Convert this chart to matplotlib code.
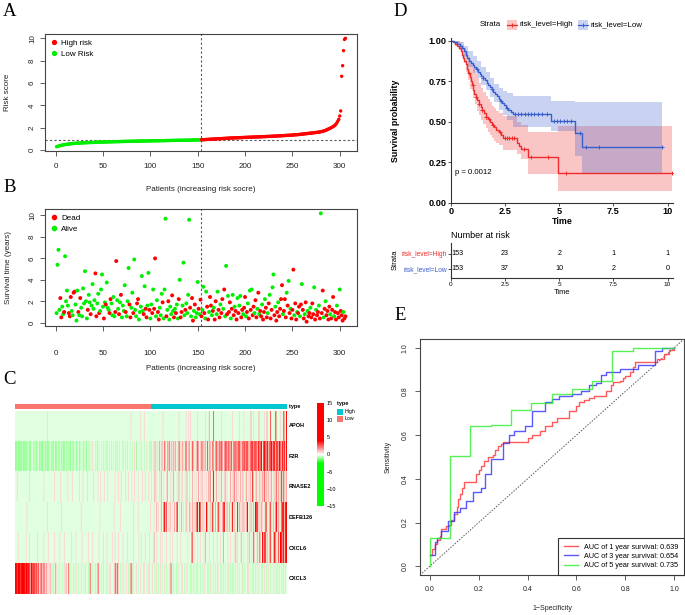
import numpy as np
import matplotlib
matplotlib.use("Agg")
import matplotlib.pyplot as plt
from matplotlib.colors import LinearSegmentedColormap, ListedColormap, Normalize
from matplotlib.cm import ScalarMappable
from matplotlib.lines import Line2D
from matplotlib.patches import Rectangle

plt.rcParams['font.family'] = ['Liberation Sans', 'DejaVu Sans']

# ---------------------------------------------------------------
# A: risk score per patient (sorted), 153 low + 153 high
# ---------------------------------------------------------------
risk_score = [
    0.30, 0.32, 0.35, 0.37, 0.40, 0.42, 0.44, 0.46, 0.47, 0.49, 0.50, 0.52, 0.53, 0.54, 0.55, 0.56, 0.57, 0.58,
    0.59, 0.59, 0.60, 0.61, 0.61, 0.62, 0.62, 0.63, 0.63, 0.64, 0.64, 0.65, 0.65, 0.65, 0.66, 0.66, 0.67, 0.67,
    0.67, 0.68, 0.68, 0.68, 0.69, 0.69, 0.69, 0.70, 0.70, 0.70, 0.71, 0.71, 0.71, 0.71, 0.72, 0.72, 0.72, 0.72,
    0.73, 0.73, 0.73, 0.73, 0.74, 0.74, 0.74, 0.74, 0.75, 0.75, 0.75, 0.75, 0.75, 0.76, 0.76, 0.76, 0.76, 0.77,
    0.77, 0.77, 0.77, 0.78, 0.78, 0.78, 0.78, 0.78, 0.79, 0.79, 0.79, 0.79, 0.79, 0.80, 0.80, 0.80, 0.80, 0.80,
    0.80, 0.81, 0.81, 0.81, 0.81, 0.81, 0.81, 0.82, 0.82, 0.82, 0.82, 0.82, 0.82, 0.83, 0.83, 0.83, 0.83, 0.83,
    0.83, 0.84, 0.84, 0.84, 0.84, 0.84, 0.84, 0.85, 0.85, 0.85, 0.85, 0.85, 0.85, 0.86, 0.86, 0.86, 0.86, 0.86,
    0.86, 0.87, 0.87, 0.87, 0.87, 0.87, 0.87, 0.88, 0.88, 0.88, 0.88, 0.88, 0.88, 0.89, 0.89, 0.89, 0.89, 0.89,
    0.90, 0.90, 0.90, 0.90, 0.90, 0.91, 0.91, 0.91, 0.91, 0.92, 0.92, 0.93, 0.93, 0.94, 0.94, 0.95, 0.95, 0.96,
    0.96, 0.97, 0.97, 0.98, 0.98, 0.99, 0.99, 1.00, 1.00, 1.01, 1.01, 1.02, 1.02, 1.03, 1.03, 1.04, 1.04, 1.05,
    1.05, 1.06, 1.06, 1.07, 1.07, 1.08, 1.08, 1.08, 1.09, 1.09, 1.09, 1.10, 1.10, 1.10, 1.11, 1.11, 1.11, 1.12,
    1.13, 1.13, 1.13, 1.14, 1.14, 1.14, 1.15, 1.15, 1.15, 1.16, 1.16, 1.16, 1.17, 1.17, 1.17, 1.18, 1.18, 1.18,
    1.19, 1.19, 1.20, 1.20, 1.20, 1.21, 1.21, 1.22, 1.22, 1.22, 1.23, 1.23, 1.24, 1.24, 1.24, 1.25, 1.25, 1.26,
    1.26, 1.27, 1.27, 1.28, 1.28, 1.29, 1.29, 1.30, 1.30, 1.31, 1.31, 1.32, 1.32, 1.33, 1.33, 1.34, 1.35, 1.35,
    1.36, 1.37, 1.37, 1.38, 1.39, 1.40, 1.41, 1.42, 1.43, 1.44, 1.45, 1.46, 1.47, 1.48, 1.49, 1.50, 1.51, 1.52,
    1.53, 1.54, 1.55, 1.56, 1.57, 1.58, 1.59, 1.60, 1.62, 1.64, 1.66, 1.68, 1.70, 1.73, 1.76, 1.80, 1.84, 1.88,
    1.92, 1.96, 2.00, 2.05, 2.10, 2.16, 2.22, 2.32, 2.45, 2.60, 2.75, 3.05, 3.50, 6.60, 7.55, 8.90, 9.90, 10.00,
]
n_low = 153
n_high = 153
risk_cutoff = 0.915

# ---------------------------------------------------------------
# B: survival time (years) and status (1 = dead, 0 = alive)
# ---------------------------------------------------------------
surv_time = [
    0.9, 5.4, 6.8, 1.2, 2.3, 0.5, 1.5, 0.8, 1.0, 6.2, 2.0, 3.0, 1.6, 0.9, 0.6, 2.4, 1.1, 0.7,
    2.8, 2.9, 1.7, 0.2, 3.0, 1.0, 0.7, 2.3, 1.4, 0.6, 3.2, 1.8, 4.8, 2.0, 0.4, 1.2, 2.6, 1.9,
    0.8, 1.6, 3.6, 1.3, 2.1, 4.6, 0.6, 1.8, 2.7, 0.9, 1.1, 3.1, 4.5, 1.5, 0.4, 1.9, 1.7, 3.75,
    1.4, 1.2, 0.9, 2.2, 1.8, 0.7, 2.4, 0.6, 1.0, 5.75, 2.1, 1.3, 0.8, 1.9, 2.6, 0.5, 1.6, 1.1,
    3.5, 1.0, 0.6, 2.0, 5.1, 1.7, 0.5, 1.4, 2.8, 0.9, 5.9, 1.2, 0.6, 1.8, 2.2, 0.3, 1.0, 1.5,
    4.35, 1.1, 0.8, 3.4, 1.3, 0.5, 1.6, 4.65, 1.2, 0.4, 1.7, 0.9, 3.1, 1.3, 6.0, 0.6, 2.1, 1.0,
    0.3, 1.4, 0.7, 2.7, 1.9, 0.4, 3.1, 9.7, 0.6, 1.2, 2.0, 0.3, 1.5, 0.8, 2.55, 1.1, 0.5, 1.3,
    0.9, 1.7, 0.4, 2.2, 4.0, 0.5, 1.0, 1.6, 5.6, 0.7, 1.2, 1.8, 0.9, 2.6, 9.6, 1.4, 0.6, 2.3,
    0.2, 1.1, 1.7, 0.5, 0.9, 3.8, 1.3, 0.8, 2.15, 0.6, 1.2, 3.35, 0.9, 0.4, 2.9, 1.5, 0.3, 1.0,
    2.4, 1.6, 0.7, 1.1, 1.4, 0.3, 2.0, 0.8, 2.9, 1.2, 0.5, 1.7, 0.9, 2.2, 1.3, 3.1, 0.6, 5.3,
    0.8, 2.5, 1.0, 1.9, 0.4, 1.3, 2.6, 0.7, 1.5, 1.1, 0.3, 2.3, 0.9, 1.6, 2.5, 0.5, 1.2, 0.8,
    1.4, 2.4, 0.6, 1.0, 1.8, 0.4, 3.0, 1.2, 3.1, 0.7, 1.5, 0.9, 2.1, 0.5, 1.3, 2.8, 0.8, 1.1,
    0.6, 1.7, 0.3, 1.0, 2.2, 1.4, 0.5, 0.9, 1.8, 2.6, 0.4, 1.2, 3.3, 4.5, 0.7, 1.5, 0.2, 1.0,
    1.9, 0.6, 1.3, 2.2, 3.5, 0.8, 1.1, 2.2, 0.5, 2.8, 1.6, 3.9, 0.9, 1.3, 0.4, 1.2, 4.95, 0.7,
    1.8, 0.3, 1.0, 0.9, 1.5, 0.6, 1.7, 3.6, 1.2, 0.4, 0.8, 1.9, 0.1, 1.1, 0.6, 0.9, 1.4, 0.5,
    1.8, 0.8, 3.3, 0.3, 1.2, 0.7, 1.0, 1.6, 0.4, 10.2, 0.9, 3.0, 0.5, 1.3, 2.0, 0.7, 1.1, 0.3,
    1.5, 0.8, 0.4, 1.2, 2.4, 0.6, 1.0, 0.3, 1.6, 0.9, 0.5, 3.1, 1.1, 0.7, 0.2, 1.0, 0.4, 0.6,
]
surv_status = "".join([
    "000011001000011100", "110001010000000100", "100001100100001010",
    "001100001100101000", "010001100100011000", "001011001001011001",
    "100010001010001010", "100101100010000101", "101000101100100110",
    "110101100110110100", "101101010110100110", "110101010110110101",
    "101101101011001011", "011110111010101110", "110110101101101101",
    "110101101011010111", "101110110110111011",
])

# ---------------------------------------------------------------
# C: expression heatmap, one code per patient (same order as A/B)
# ---------------------------------------------------------------
genes = ['APOH', 'F2R', 'RNASE2', 'DEFB126', 'CXCL6', 'CXCL3']
expr_code_values = {'.': -0.3, 'g': -0.6, 'G': -1.0, 'p': 0.6, 'q': 1.5, 'R': 2.8, 'r': 8.0}
expr_rows = [
    ".......... .......... .......... ......p... .......... .......... .......... .......... "
    ".......... .......... .......... .......... .......... p......... .p...p.... .......... "
    "......p... .......... ....p..... ..p..p.p.. .....p.... ....p...q. ...R...... ..p....... "
    "....p..... ..p....p.. .....q..p. ....q..... p..q...R.. ...r....p. ..r..r",
    "GGgGGgGGgG GgGG.gGG.. gG.gGg.GgG GG.gGgGGg. gGgG.GG.gG g.GgGG.gG. GgG.gGg.gG g.Gg..gG.g "
    "G.gp.g.p.. g.G.g..g.p .g.G..g.p. g..G.p.g.. .G..g.p..g ..g.p.G... g.p..g..p. .pgp.p.qp. "
    "p.q.pq.pRp .qpR.pq.qp q.p.Rq.pqp .qRp.qq.pR q.p.qRq.pq R.qpq.R.qq p.Rq.qRqpq RqRq.qRRqq "
    "RqqR.qRqRq qRRq.RqRRq RRq.RqrRqR RR.rRqRr.R rRqRr.RRrq RrR.rRqrR. rRqr.r",
    "..p....... ......p... .......... ..p....... ....p..... .p.......p ....p..... ..p...p... "
    ".p......p. ...p..p... p...p..... ..p...p..p ....p..p.. .p..p...p. ...p..p... p..p..pq.p "
    "..p.q..p.. pq..p.p.q. ..p.q..pp. .p.q..p..q ..p.p.q.p. q..p.p.q.R ..pr..q.p. p.q..pq.p. "
    "..q.p.Rp.q .p.q.pq..p q.p.qp.rp. pq.p.q.pqp R.qp.q.pq. p.qpR.qp.r .qR.pq",
    ".......... ...p...... .......... ......p... .......... ..p....... .......... ....p..... "
    ".......... .....p.... .......... .p......p. .......... ...p....p. .......... ..p...p..q "
    ".p..q..Rrp R.p.q..p.q .qr..p.q.p ..q.p.qp.q p.q.Rr.rRp .q.p.rq.p. q.rp.q..rq .p.qRr..qp "
    ".q.pr.q.p. r.qp.q.qp. qr.p.qp.q. rRr.q.pqp. .qr.p.qRp. q.pRr.qp.q rRr.rr",
    "...p...... ..p...p... .....p.... ..p....p.. ....p..... p....p.... ...p....p. .....p.... "
    "..p....p.. ....p....p ...p.....p ..p...p... .p....p... ...p.....p ..p...p... .p....q..p "
    "...p.p.... p...p..p.. ..p...p... ....p...qR .p...p..p. ..p.q...p. ...p...p.. .p..q....p "
    "..p...p.q. p...q..p.. .p.q..p.Rp ..q.pR..rq Rr.qp.qRp. .rRq.pR.rr qRr.rr",
    "rrRrrrRrrr rRrrRrRqrR RrqRRqRpqR qpRqpqpp.q p.gp.qp.g. p..g.p.q.. R.g..p.g.p .g..p..g.p "
    "..g.Rp.g.. p.gRp..g.p ..g.p.gp.. .pqR.Rp.g. p.g..p.gp. Rq.g..p.g. .p..gp..g. pg..p.g.gp "
    ".g.p.g..p. g..p.Rg.p. .gg.p..gp. g.p.g..gg. p.g.gp..g. .g.p..gg.p g..p.g.gp. .gg.p.g..g "
    "p.g.gg..p. g.g..pg.g. .gp.g..gp. g.g.p..gg. p.gg.p.g.. g.p.gg.p.g .gp.g.",
]

# ---------------------------------------------------------------
# D: Kaplan-Meier curves (step points), 95% bands, censor times
# ---------------------------------------------------------------
km_high_t = [0, 0.1, 0.2, 0.3, 0.37, 0.44, 0.5, 0.56, 0.62, 0.68, 0.74, 0.8, 0.86, 0.92, 0.97, 1.02,
             1.08, 1.15, 1.22, 1.3, 1.38, 1.45, 1.52, 1.6, 1.7, 1.8, 1.9, 2.0, 2.1, 2.2, 2.3, 2.38,
             3.05, 3.15, 3.25, 3.55, 4.95, 10.2]
km_high_s = [1.0, 0.993, 0.98, 0.967, 0.954, 0.935, 0.915, 0.895, 0.875, 0.855, 0.829, 0.803, 0.777,
             0.751, 0.725, 0.699, 0.673, 0.653, 0.633, 0.613, 0.593, 0.573, 0.553, 0.533, 0.516, 0.499,
             0.483, 0.468, 0.452, 0.436, 0.418, 0.398, 0.372, 0.352, 0.335, 0.285, 0.187, 0.187]
km_low_t = [0, 0.15, 0.3, 0.42, 0.52, 0.6, 0.68, 0.76, 0.84, 0.92, 1.0, 1.08, 1.16, 1.24, 1.32, 1.4,
            1.48, 1.56, 1.64, 1.72, 1.8, 1.88, 1.96, 2.04, 2.12, 2.2, 2.28, 2.36, 2.45, 2.55, 2.65,
            2.75, 2.88, 4.62, 5.72, 6.03, 9.72]
km_low_s = [1.0, 0.993, 0.98, 0.967, 0.954, 0.935, 0.915, 0.895, 0.875, 0.862, 0.849, 0.836, 0.823,
            0.81, 0.797, 0.784, 0.77, 0.756, 0.742, 0.728, 0.714, 0.70, 0.686, 0.672, 0.658, 0.644,
            0.63, 0.616, 0.602, 0.588, 0.574, 0.56, 0.546, 0.505, 0.43, 0.345, 0.345]
band_high_t = [0, 0.2, 0.35, 0.5, 0.6, 0.7, 0.8, 0.9, 1.0, 1.1, 1.2, 1.3, 1.4, 1.5, 1.6, 1.7, 1.8,
               1.9, 2.0, 2.1, 2.2, 2.38, 3.05, 3.25, 3.55, 4.95, 10.2]
band_high_up = [1.0, 1.0, 0.995, 0.975, 0.955, 0.93, 0.90, 0.865, 0.83, 0.80, 0.77, 0.74, 0.71, 0.685,
                0.66, 0.64, 0.62, 0.60, 0.585, 0.57, 0.555, 0.535, 0.50, 0.48, 0.44, 0.475, 0.475]
band_high_lo = [1.0, 0.97, 0.945, 0.90, 0.86, 0.81, 0.76, 0.70, 0.65, 0.61, 0.57, 0.54, 0.51, 0.485,
                0.46, 0.44, 0.42, 0.40, 0.385, 0.37, 0.355, 0.325, 0.30, 0.27, 0.178, 0.072, 0.072]
band_low_t = [0, 0.2, 0.4, 0.6, 0.8, 1.0, 1.2, 1.4, 1.6, 1.8, 2.0, 2.2, 2.4, 2.6, 2.88, 4.62, 5.72,
              6.03, 9.72]
band_low_up = [1.0, 1.0, 0.995, 0.97, 0.935, 0.905, 0.875, 0.84, 0.81, 0.77, 0.735, 0.71, 0.69, 0.675,
               0.66, 0.63, 0.625, 0.62, 0.62]
band_low_lo = [1.0, 0.975, 0.945, 0.90, 0.84, 0.80, 0.77, 0.725, 0.695, 0.655, 0.62, 0.575, 0.54, 0.51,
               0.47, 0.445, 0.29, 0.187, 0.187]
censor_high = [0.85, 1.0, 1.15, 1.3, 1.45, 1.6, 1.75, 1.95, 2.25, 2.5, 2.6, 2.7, 2.8, 2.9, 3.35, 3.7,
               4.5, 5.3, 10.2]
censor_low = [1.2, 1.5, 1.9, 2.3, 2.6, 2.95, 3.1, 3.25, 3.4, 3.55, 3.7, 3.85, 4.0, 4.2, 4.45, 4.75,
              4.9, 5.05, 5.2, 5.35, 5.55, 5.95, 6.23, 6.85, 9.72]
risk_times = [0, 2.5, 5, 7.5, 10]
at_risk_high = [153, 23, 2, 1, 1]
at_risk_low = [153, 37, 10, 2, 0]
p_value = 'p = 0.0012'

# ---------------------------------------------------------------
# E: time-dependent ROC curves
# ---------------------------------------------------------------
roc1_fpr = [0, 0.01, 0.02, 0.03, 0.04, 0.045, 0.06, 0.065, 0.08, 0.085, 0.1, 0.11, 0.115, 0.125, 0.13,
            0.14, 0.18, 0.19, 0.2, 0.21, 0.22, 0.235, 0.24, 0.26, 0.265, 0.28, 0.29, 0.3, 0.37, 0.4,
            0.42, 0.45, 0.47, 0.5, 0.52, 0.56, 0.57, 0.6, 0.61, 0.63, 0.65, 0.67, 0.7, 0.72, 0.74,
            0.75, 0.78, 0.79, 0.8, 0.82, 0.83, 0.84, 0.92, 0.93, 0.96, 0.98, 1.0]
roc1_tpr = [0.05, 0.08, 0.1, 0.12, 0.14, 0.17, 0.17, 0.185, 0.19, 0.21, 0.24, 0.27, 0.31, 0.33, 0.36,
            0.385, 0.385, 0.42, 0.44, 0.46, 0.48, 0.48, 0.5, 0.51, 0.53, 0.55, 0.56, 0.57, 0.57, 0.585,
            0.6, 0.62, 0.64, 0.66, 0.68, 0.68, 0.71, 0.735, 0.75, 0.76, 0.77, 0.78, 0.78, 0.8, 0.83,
            0.845, 0.85, 0.86, 0.87, 0.89, 0.91, 0.935, 0.935, 0.95, 0.97, 0.99, 1.0]
roc3_fpr = [0, 0.023, 0.03, 0.047, 0.075, 0.1, 0.123, 0.15, 0.177, 0.21, 0.225, 0.25, 0.3, 0.325,
            0.345, 0.39, 0.42, 0.47, 0.5, 0.53, 0.58, 0.62, 0.65, 0.68, 0.70, 0.72, 0.78, 0.85,
            0.92, 0.95, 1.0]
roc3_tpr = [0.05, 0.11, 0.13, 0.16, 0.205, 0.25, 0.266, 0.3, 0.338, 0.356, 0.42, 0.49, 0.566, 0.6,
            0.62, 0.64, 0.71, 0.75, 0.765, 0.78, 0.79, 0.8, 0.83, 0.84, 0.875, 0.89, 0.905, 0.92,
            0.985, 1.0, 1.0]
roc5_fpr = [0, 0, 0.082, 0.166, 0.25, 0.334, 0.416, 0.5, 0.58, 0.662, 0.745, 0.833, 1.0]
roc5_tpr = [0, 0.128, 0.505, 0.64, 0.648, 0.717, 0.747, 0.787, 0.813, 0.85, 0.985, 1.0, 1.0]
roc_labels = ['AUC of 1 year survival: 0.639', 'AUC of 3 year survival: 0.654',
              'AUC of 5 year survival: 0.735']

# ---------------------------------------------------------------
W, H = 685, 615
fig = plt.figure(figsize=(W / 100, H / 100), dpi=100)

RED, GREEN = '#FF0000', '#00EE00'
KM_RED, KM_BLUE = '#EE2C2C', '#3A5FCD'
EDGE = '#444444'


def ax_px(left, top, right, bottom):
    return fig.add_axes([left / W, 1 - bottom / H, (right - left) / W, (bottom - top) / H])


def text_px(x, y, s, **kw):
    kw.setdefault('va', 'center')
    return fig.text(x / W, 1 - y / H, s, **kw)


def r_lim(values):
    lo, hi = min(values), max(values)
    d = (hi - lo) * 0.04
    return lo - d, hi + d


def r_axes(ax, size, xpad, ypad):
    for sp in ax.spines.values():
        sp.set_color(EDGE)
        sp.set_linewidth(0.8)
    ax.tick_params(direction='out', length=3.3, width=0.6, color=EDGE,
                   labelsize=size, labelcolor='#222222')
    ax.tick_params(axis='x', pad=xpad)
    ax.tick_params(axis='y', pad=ypad)
    for lab in ax.get_yticklabels():
        lab.set_rotation(90)
        lab.set_va('center')


# panel letters
for letter, (x, y) in {'A': (10, 11), 'B': (10, 188), 'C': (9, 380), 'D': (400, 11), 'E': (400, 316)}.items():
    text_px(x, y, letter, ha='center', family='Liberation Serif', fontsize=13.5)

# ---------------- A ----------------
axA = ax_px(45, 34, 357, 151)
pid = np.arange(1, len(risk_score) + 1)
risk_group = ['Low'] * n_low + ['High'] * n_high
axA.scatter(pid, risk_score, s=6, lw=0,
            c=[RED if g == 'High' else GREEN for g in risk_group], zorder=3)
axA.axvline(n_low + 0.5, color='#555555', ls=(0, (2, 2)), lw=0.8)
axA.axhline(risk_cutoff, color='#555555', ls=(0, (2, 2)), lw=0.8)
axA.set_xlim(r_lim(pid))
axA.set_ylim(r_lim(risk_score))
axA.set_xticks(range(0, 301, 50))
axA.set_yticks(range(0, 11, 2))
r_axes(axA, 5.8, 5.0, 3.2)
axA.legend(handles=[Line2D([], [], ls='', marker='o', ms=2.8, color=RED, label='High risk'),
                    Line2D([], [], ls='', marker='o', ms=2.8, color=GREEN, label='Low Risk')],
           loc='upper left', frameon=False, fontsize=5.8, handlelength=0.8,
           handletextpad=0.5, labelspacing=0.35, borderaxespad=0.3, borderpad=0.4)
text_px(201, 189, 'Patients (increasing risk socre)', ha='center', fontsize=5.8, color='#222222')
text_px(8, 92, 'Risk score', ha='center', rotation=90, fontsize=5.8, color='#222222')

# ---------------- B ----------------
axB = ax_px(45, 209, 357, 326)
n = min(len(surv_time), len(surv_status))
pidB = np.arange(1, n + 1)
axB.scatter(pidB, surv_time[:n], s=8, lw=0,
            c=[RED if st == '1' else GREEN for st in surv_status[:n]], zorder=3)
axB.axvline(n_low + 0.5, color='#555555', ls=(0, (2, 2)), lw=0.8)
axB.set_xlim(r_lim(pidB))
axB.set_ylim(r_lim(surv_time))
axB.set_xticks(range(0, 301, 50))
axB.set_yticks(range(0, 11, 2))
r_axes(axB, 5.8, 14.0, 3.2)
axB.legend(handles=[Line2D([], [], ls='', marker='o', ms=3.0, color=RED, label='Dead'),
                    Line2D([], [], ls='', marker='o', ms=3.0, color=GREEN, label='Alive')],
           loc='upper left', frameon=False, fontsize=5.8, handlelength=0.8,
           handletextpad=0.5, labelspacing=0.35, borderaxespad=0.3, borderpad=0.4)
text_px(201, 369, 'Patients (increasing risk socre)', ha='center', fontsize=5.8, color='#222222')
text_px(9, 268, 'Survival time (years)', ha='center', rotation=90, fontsize=5.8, color='#222222')

# ---------------- C ----------------
heat_cmap = LinearSegmentedColormap.from_list(
    'gwr', [(0.0, '#00FF00'), ((15 - 2.5) / 30, '#00FF00'), (0.5, '#FFFFFF'),
            ((15 + 4) / 30, '#FF0000'), (1.0, '#FF0000')])
heat_norm = Normalize(-15, 15)
n_pat = n_low + n_high

axT = ax_px(15, 404, 287, 409)
type_codes = [0 if g == 'Low' else 1 for g in risk_group]
axT.imshow([type_codes], extent=(0, n_pat, 0, 1), aspect='auto', interpolation='nearest',
           cmap=ListedColormap(['#F8766D', '#00C8D0']))
axT.set_xlim(0, n_pat)
axT.set_axis_off()
text_px(289, 406.5, 'type', fontsize=4, fontweight='bold')

row_top, row_bot = 410.5, 594
axC = ax_px(15, row_top, 287, row_bot)
row_h = (row_bot - row_top) / len(genes)
for i, (gene, row) in enumerate(zip(genes, expr_rows)):
    vals = np.array([expr_code_values[ch] for ch in "".join(row.split())])
    y0 = len(genes) - 1 - i
    axC.imshow(vals[None, :], extent=(0, n_pat, y0, y0 + 1), aspect='auto',
               cmap=heat_cmap, norm=heat_norm)
    text_px(289, row_top + row_h * (i + 0.5), gene, fontsize=4, fontweight='bold')
axC.set_xlim(0, n_pat)
axC.set_ylim(0, len(genes))
axC.set_axis_off()

cax = ax_px(317, 403, 324, 506)
cb = fig.colorbar(ScalarMappable(norm=heat_norm, cmap=heat_cmap), cax=cax)
cb.outline.set_visible(False)
cb.set_ticks([15, 10, 5, 0, -5, -10, -15])
cb.set_ticklabels(['15', '10', '5', '0', '\u22125', '\u221210', '\u221215'])
cb.ax.tick_params(length=0, labelsize=4, pad=2.2)
text_px(337, 404, 'type', fontsize=4, fontweight='bold')
for k, (lab, col) in enumerate([('High', '#00C8D0'), ('Low', '#F8766D')]):
    y = 409 + k * 7
    fig.add_artist(Rectangle((337 / W, 1 - (y + 5.5) / H), 6 / W, 5.5 / H,
                             transform=fig.transFigure, color=col, lw=0))
    text_px(344.5, y + 2.8, lab, fontsize=3.8)

# ---------------- D ----------------
axD = ax_px(451, 38, 673, 203)
for tt, up, lo, col in [(band_high_t, band_high_up, band_high_lo, KM_RED),
                        (band_low_t, band_low_up, band_low_lo, KM_BLUE)]:
    axD.fill_between(tt, lo, up, step='post', color=col, alpha=0.27, lw=0)
for tt, ss, cens, col in [(km_high_t, km_high_s, censor_high, KM_RED),
                          (km_low_t, km_low_s, censor_low, KM_BLUE)]:
    axD.step(tt, ss, where='post', color=col, lw=1.0)
    idx = np.searchsorted(tt, cens, side='right') - 1
    axD.plot(cens, np.array(ss)[idx], ls='', marker='+', ms=3.2, mew=0.7, color=col)
axD.set_xlim(0, 10.25)
axD.set_ylim(0, 1.017)
axD.set_xticks(risk_times)
axD.set_xticklabels(['0', '2.5', '5', '7.5', '10'])
axD.set_yticks([0, 0.25, 0.5, 0.75, 1.0])
axD.set_yticklabels(['0.00', '0.25', '0.50', '0.75', '1.00'])
for side in ['top', 'right']:
    axD.spines[side].set_visible(False)
for side in ['left', 'bottom']:
    axD.spines[side].set_color('#333333')
    axD.spines[side].set_linewidth(0.8)
axD.tick_params(direction='out', length=2.2, width=0.6, color='#333333', labelsize=6.6, pad=0.8)
for lab in axD.get_xticklabels() + axD.get_yticklabels():
    lab.set_fontweight('bold')
axD.text(0.2, 0.185, p_value, fontsize=5.6, va='center')
text_px(562, 221, 'Time', ha='center', fontsize=6.4, fontweight='bold')
text_px(395, 121, 'Survival probability', ha='center', rotation=90, fontsize=6.4, fontweight='bold')

# legend above panel D
text_px(480, 25, 'Strata', fontsize=5.7)
for (x0, lab, col) in [(506.5, 'risk_level=High', KM_RED), (578, 'risk_level=Low', KM_BLUE)]:
    fig.add_artist(Rectangle((x0 / W, 1 - 29.5 / H), 10 / W, 9 / H, transform=fig.transFigure,
                             color=col, alpha=0.27, lw=0))
    fig.add_artist(Line2D([x0 / W, (x0 + 10) / W], [1 - 25 / H] * 2, color=col, lw=0.9,
                          transform=fig.transFigure))
    fig.add_artist(Line2D([(x0 + 5) / W], [1 - 25 / H], color=col, marker='+', ms=3.2, mew=0.7,
                          transform=fig.transFigure))
    text_px(x0 + 12.5, 25, lab, fontsize=5.7)

# risk table
axR = ax_px(451, 243, 673, 278)
for k, t in enumerate(risk_times):
    ha = 'left' if k == 0 else 'center'
    axR.text(t, 2, str(at_risk_high[k]), ha=ha, va='center', fontsize=5.2)
    axR.text(t, 1, str(at_risk_low[k]), ha=ha, va='center', fontsize=5.2)
axR.set_xlim(0, 10.25)
axR.set_ylim(0.4, 2.73)
axR.set_xticks(risk_times)
axR.set_xticklabels(['0', '2.5', '5', '7.5', '10'])
axR.set_yticks([2, 1])
axR.set_yticklabels(['risk_level=High', 'risk_level=Low'])
for lab, col in zip(axR.get_yticklabels(), [KM_RED, KM_BLUE]):
    lab.set_color(col)
for side in ['top', 'right']:
    axR.spines[side].set_visible(False)
for side in ['left', 'bottom']:
    axR.spines[side].set_color('#333333')
    axR.spines[side].set_linewidth(0.8)
axR.tick_params(direction='out', length=2.2, width=0.6, color='#333333', labelsize=4.6, pad=0.8)
axR.tick_params(axis='y', labelsize=4.8)
text_px(451, 236, 'Number at risk', fontsize=6.5)
text_px(562, 293, 'Time', ha='center', fontsize=5.4)
text_px(395, 260, 'Strata', ha='center', rotation=90, fontsize=5.5)

# ---------------- E ----------------
axE = ax_px(420, 339, 684, 575)
axE.axline((0, 0), (1, 1), color='#555555', ls=(0, (1.5, 1.5)), lw=0.7)
roc_handles = []
for fpr, tpr, col, lab in [(roc1_fpr, roc1_tpr, '#FF3030', roc_labels[0]),
                           (roc3_fpr, roc3_tpr, '#3030FF', roc_labels[1]),
                           (roc5_fpr, roc5_tpr, '#30EE30', roc_labels[2])]:
    h, = axE.step(fpr, tpr, where='post', color=col, lw=1.0, alpha=0.8, label=lab)
    roc_handles.append(h)
axE.set_xlim(-0.04, 1.04)
axE.set_ylim(-0.04, 1.04)
ticks = [0, 0.2, 0.4, 0.6, 0.8, 1.0]
axE.set_xticks(ticks)
axE.set_yticks(ticks)
axE.set_xticklabels([f'{v:.1f}' for v in ticks])
axE.set_yticklabels([f'{v:.1f}' for v in ticks])
r_axes(axE, 5.0, 4.9, 4.9)
leg = axE.legend(handles=roc_handles, loc='lower right', fontsize=5.2, frameon=True, fancybox=False,
                 edgecolor='#333333', framealpha=1, borderaxespad=0, handlelength=2.0,
                 handletextpad=0.8, labelspacing=0.3, borderpad=0.8)
leg.get_frame().set_linewidth(0.8)
text_px(552, 608, '1\u2212Specificity', ha='center', fontsize=5.0, color='#222222')
text_px(388, 457, 'Sensitivity', ha='center', rotation=90, fontsize=5.0, color='#222222')

fig.savefig('out.png', dpi=100)
